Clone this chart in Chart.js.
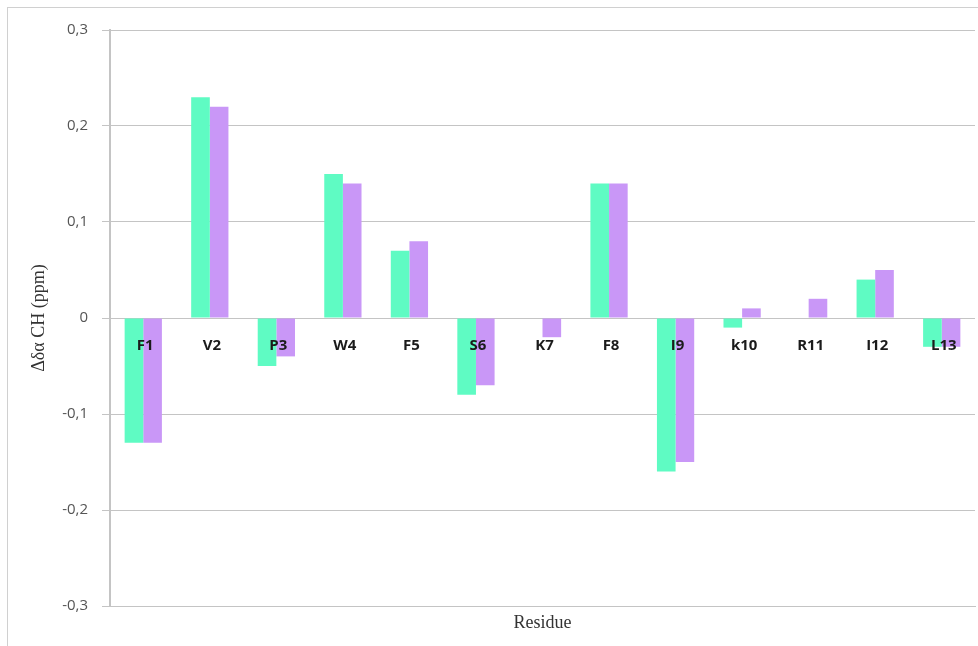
<!DOCTYPE html>
<html>
<head>
<meta charset="utf-8">
<script src="https://cdn.jsdelivr.net/npm/chart.js@4.4.1/dist/chart.umd.min.js"></script>
<style>
  html, body { margin: 0; padding: 0; background: #ffffff; }
  #wrap { position: relative; width: 978px; height: 646px; }
  #frame { position: absolute; left: 7px; top: 7px; width: 975px; height: 640px; border: 1px solid #d0d0d0; box-sizing: border-box; pointer-events: none; }
  canvas { display: block; }
</style>
</head>
<body>
<div id="wrap">
  <canvas id="chart" width="978" height="646"></canvas>
  <div id="frame"></div>
</div>
<script>
// Residues along the peptide
const residues = ['F1', 'V2', 'P3', 'W4', 'F5', 'S6', 'K7', 'F8', 'I9', 'k10', 'R11', 'I12', 'L13'];

// Secondary chemical shift deviations, Hα (ppm)
const seriesA = [-0.13, 0.23, -0.05, 0.15, 0.07, -0.08, 0.00, 0.14, -0.16, -0.01, 0.00, 0.04, -0.03];
const seriesB = [-0.13, 0.22, -0.04, 0.14, 0.08, -0.07, -0.02, 0.14, -0.15, 0.01, 0.02, 0.05, -0.03];

// Value axis ticks
const yTicks = [-0.3, -0.2, -0.1, 0, 0.1, 0.2, 0.3];

const gridGray = '#c4c4c4';

// Residue names written along the zero line, above the bars
const residueLabels = {
  id: 'residueLabels',
  afterDatasetsDraw(chart) {
    const { ctx, scales } = chart;
    const y0 = scales.y.getPixelForValue(0);
    ctx.save();
    ctx.font = 'bold 15px "Open Sans", "DejaVu Sans", sans-serif';
    ctx.fillStyle = '#1b1b1b';
    ctx.textAlign = 'center';
    ctx.textBaseline = 'middle';
    residues.forEach((name, i) => {
      ctx.fillText(name, scales.x.getPixelForValue(i) + 2, y0 + 28);
    });
    ctx.restore();
  }
};

new Chart(document.getElementById('chart'), {
  type: 'bar',
  data: {
    labels: residues,
    datasets: [
      { data: seriesA, backgroundColor: '#5ffbc3', borderWidth: 0 },
      { data: seriesB, backgroundColor: '#c997f7', borderWidth: 0 }
    ]
  },
  options: {
    responsive: false,
    animation: false,
    devicePixelRatio: 1,
    layout: { padding: { top: 30, right: 3, bottom: 0, left: 0 } },
    plugins: {
      legend: { display: false },
      tooltip: { enabled: false }
    },
    datasets: {
      bar: { categoryPercentage: 0.56, barPercentage: 1.0 }
    },
    scales: {
      x: {
        grid: { display: false, drawTicks: false },
        border: { display: true, color: gridGray, width: 1 },
        ticks: { display: false },
        title: {
          display: true,
          text: 'Residue',
          color: '#333333',
          font: { family: '"Liberation Serif", "DejaVu Serif", serif', size: 18 },
          padding: { top: 0, bottom: 12 }
        },
        afterFit(scale) { scale.height = 40; }
      },
      y: {
        min: -0.3,
        max: 0.3,
        afterBuildTicks(scale) { scale.ticks = yTicks.map(v => ({ value: v })); },
        grid: { color: gridGray, lineWidth: 1, tickLength: 8, tickColor: gridGray },
        border: { display: true, color: gridGray, width: 2 },
        ticks: {
          color: '#555555',
          padding: 14,
          font: { family: '"Open Sans", "DejaVu Sans", sans-serif', size: 15 },
          callback: (v) => v === 0 ? '0' : String(Math.round(v * 10) / 10).replace('.', ',')
        },
        title: {
          display: true,
          text: 'Δδα CH (ppm)',
          color: '#333333',
          font: { family: '"Liberation Serif", "DejaVu Serif", serif', size: 18 },
          padding: { top: 28, bottom: 0 }
        },
        afterFit(scale) { scale.width = 110; }
      }
    }
  },
  plugins: [residueLabels]
});
</script>
</body>
</html>
